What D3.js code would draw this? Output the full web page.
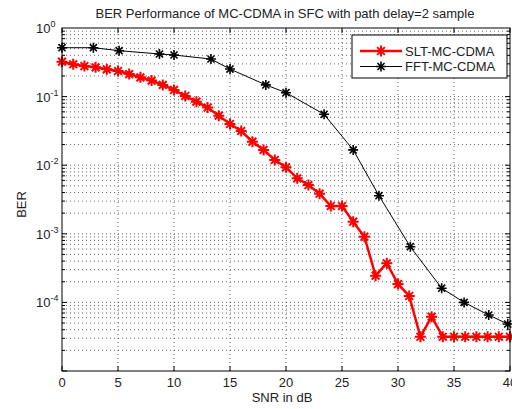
<!DOCTYPE html>
<html>
<head>
<meta charset="utf-8">
<script src="https://cdn.jsdelivr.net/npm/d3@7"></script>
<style>
  body { margin: 0; background: #fff; }
  svg { display: block; font-family: "Liberation Sans", Arial, sans-serif; }
</style>
</head>
<body>
<svg></svg>
<script>
// SNR in dB for the red curve (one point per dB)
const sltSnr = d3.range(0, 41)
const sltBer = [0.323, 0.296, 0.279, 0.267, 0.250, 0.236, 0.213, 0.191, 0.171, 0.148,
  0.125, 0.102, 0.0843, 0.0694, 0.0527, 0.0399, 0.0315, 0.0220, 0.0167, 0.0119,
  0.00932, 0.00644, 0.00514, 0.00384, 0.00254, 0.00254, 0.00150, 0.000907, 0.000245, 0.000372,
  0.000185, 0.000124, 0.0000316, 0.0000619, 0.0000316, 0.0000316, 0.0000316, 0.0000316, 0.0000316, 0.0000316,
  0.0000316]

const fftSnr = [0, 2.8, 5.1, 8.7, 10, 13.3, 15, 18.2, 20, 23.4, 26, 28.3, 31.1, 33.9, 35.9, 38.1, 39.8]
const fftBer = [0.516, 0.516, 0.467, 0.418, 0.404, 0.353, 0.252, 0.148, 0.114, 0.0552,
  0.0167, 0.00359, 0.000648, 0.000161, 0.0001, 0.0000655, 0.0000484]

const xTicks = [0, 5, 10, 15, 20, 25, 30, 35, 40]
const yExponents = [0, -1, -2, -3, -4]
const seriesNames = ['SLT-MC-CDMA', 'FFT-MC-CDMA']

const width = 512
const height = 409
const margin = {left: 62, right: 2, top: 28, bottom: 38}

const svg = d3.select('svg')
  .attr('width', width)
  .attr('height', height)

const x = d3.scaleLinear().domain([0, 40]).range([margin.left, width - margin.right])
const y = d3.scaleLog().domain([1e-5, 1]).range([height - margin.bottom, margin.top])

const x0 = x.range()[0], x1 = x.range()[1]
const y0 = y.range()[0], y1 = y.range()[1]

// minor log values 1..9 x 10^k
const minorVals = []
for (let k = -5; k < 0; k++) {
  for (let m = 1; m < 10; m++) minorVals.push(m * Math.pow(10, k))
}

// grid
const grid = svg.append('g')
grid.selectAll('line.h')
  .data(minorVals.filter(v => v > 1e-5))
  .enter().append('line')
  .attr('x1', x0).attr('x2', x1)
  .attr('y1', d => y(d)).attr('y2', d => y(d))
  .attr('stroke', '#666')
  .attr('stroke-width', 1)
  .attr('stroke-dasharray', '1,3')
grid.selectAll('line.v')
  .data(xTicks.slice(1, -1))
  .enter().append('line')
  .attr('y1', y0).attr('y2', y1)
  .attr('x1', d => x(d)).attr('x2', d => x(d))
  .attr('stroke', '#666')
  .attr('stroke-width', 1)
  .attr('stroke-dasharray', '1,3')

// ticks inside the box
const ticks = svg.append('g').attr('stroke', '#000').attr('stroke-width', 1)
xTicks.forEach(t => {
  ticks.append('line').attr('x1', x(t)).attr('x2', x(t)).attr('y1', y0).attr('y2', y0 - 5)
  ticks.append('line').attr('x1', x(t)).attr('x2', x(t)).attr('y1', y1).attr('y2', y1 + 5)
})
minorVals.forEach(v => {
  const len = (Math.abs(Math.log10(v) - Math.round(Math.log10(v))) < 1e-9) ? 5 : 3
  ticks.append('line').attr('x1', x0).attr('x2', x0 + len).attr('y1', y(v)).attr('y2', y(v))
  ticks.append('line').attr('x1', x1).attr('x2', x1 - len).attr('y1', y(v)).attr('y2', y(v))
})

// asterisk marker
function star(r) {
  const d = r * Math.SQRT1_2
  return `M${-r},0L${r},0M0,${-r}L0,${r}M${-d},${-d}L${d},${d}M${-d},${d}L${d},${-d}`
}

const line = d3.line().x(d => x(d[0])).y(d => y(d[1]))

function drawSeries(xs, ys, color, lw, mr, mlw) {
  const pts = xs.map((v, i) => [v, ys[i]])
  const g = svg.append('g')
  g.append('path')
    .attr('d', line(pts))
    .attr('fill', 'none')
    .attr('stroke', color)
    .attr('stroke-width', lw)
  g.selectAll('path.m')
    .data(pts)
    .enter().append('path')
    .attr('transform', d => `translate(${x(d[0])},${y(d[1])})`)
    .attr('d', star(mr))
    .attr('fill', 'none')
    .attr('stroke', color)
    .attr('stroke-width', mlw)
}

drawSeries(fftSnr, fftBer, '#000', 1, 5, 1.6)
drawSeries(sltSnr, sltBer, '#f00', 2.5, 5.5, 2)

// box
svg.append('rect')
  .attr('x', x0).attr('y', y1)
  .attr('width', x1 - x0).attr('height', y0 - y1)
  .attr('fill', 'none').attr('stroke', '#000').attr('stroke-width', 1)

// tick labels
svg.append('g').selectAll('text')
  .data(xTicks)
  .enter().append('text')
  .attr('x', d => x(d))
  .attr('y', y0 + 16)
  .attr('text-anchor', 'middle')
  .attr('font-size', 13)
  .attr('fill', '#222')
  .text(d => d)

const yl = svg.append('g').selectAll('text')
  .data(yExponents)
  .enter().append('text')
  .attr('x', 36)
  .attr('y', d => y(Math.pow(10, d)) + 5)
  .attr('font-size', 13)
  .attr('fill', '#222')
yl.append('tspan').text('10')
yl.append('tspan').attr('dy', -6).attr('font-size', 9).text(d => d)

// labels
svg.append('text')
  .attr('x', (x0 + x1) / 2 - 1).attr('y', 18)
  .attr('text-anchor', 'middle').attr('font-size', 13)
  .attr('fill', '#222')
  .text('BER Performance of MC-CDMA in SFC with path delay=2 sample')
svg.append('text')
  .attr('x', (x0 + x1) / 2 - 4).attr('y', 402)
  .attr('text-anchor', 'middle').attr('font-size', 13)
  .attr('fill', '#222')
  .text('SNR in dB')
svg.append('text')
  .attr('transform', `translate(26,${(y0 + y1) / 2 + 5}) rotate(-90)`)
  .attr('text-anchor', 'middle').attr('font-size', 13)
  .attr('fill', '#222')
  .text('BER')

// legend
const leg = svg.append('g').attr('transform', 'translate(352,35)')
leg.append('rect')
  .attr('width', 155).attr('height', 43)
  .attr('fill', '#fff').attr('stroke', '#000').attr('stroke-width', 1)
const legStyle = [['#f00', 2.5, 5.5, 2], ['#000', 1, 5, 1.6]]
seriesNames.forEach((name, i) => {
  const ly = 16 + i * 15.5
  const s = legStyle[i]
  leg.append('line').attr('x1', 8).attr('x2', 50).attr('y1', ly).attr('y2', ly)
    .attr('stroke', s[0]).attr('stroke-width', s[1])
  leg.append('path').attr('transform', `translate(29,${ly})`).attr('d', star(s[2]))
    .attr('fill', 'none').attr('stroke', s[0]).attr('stroke-width', s[3])
  leg.append('text').attr('x', 53).attr('y', ly + 4.5).attr('font-size', 13)
    .attr('fill', '#222').text(name)
})
</script>
</body>
</html>
